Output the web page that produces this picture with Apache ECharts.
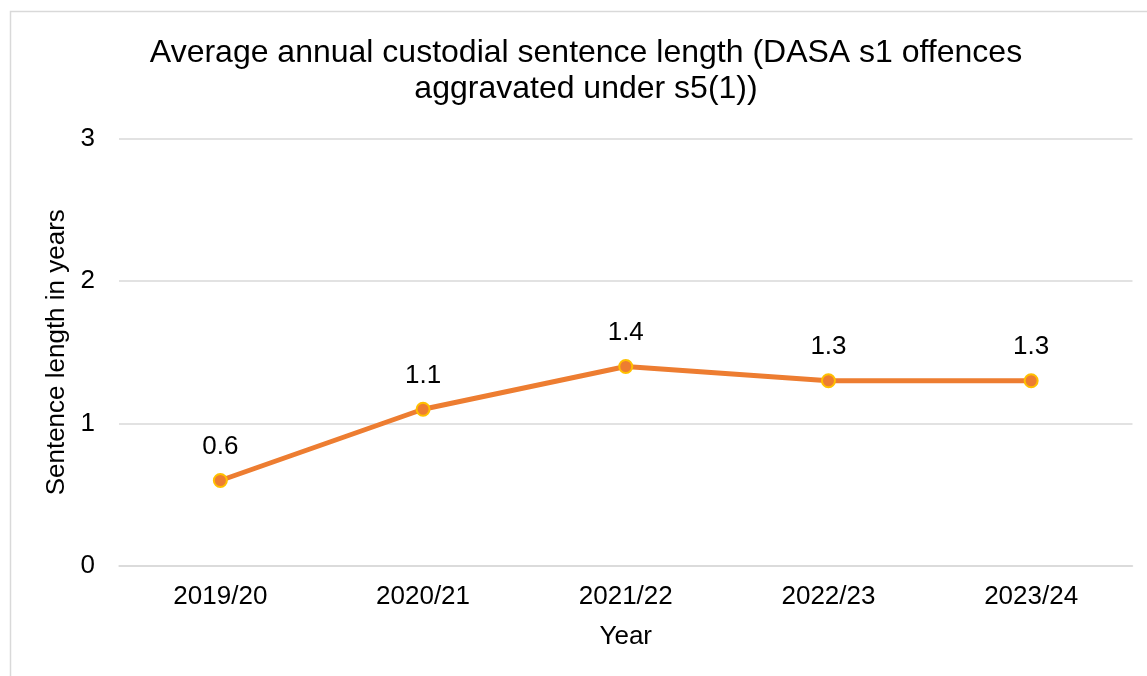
<!DOCTYPE html>
<html>
<head>
<meta charset="utf-8">
<script src="https://cdn.jsdelivr.net/npm/echarts@6/dist/echarts.min.js"></script>
<style>
  html, body { margin: 0; padding: 0; background: #fff; }
  #chart { width: 1147px; height: 676px; }
</style>
</head>
<body>
<div id="chart"></div>
<script>
// Financial years and average custodial sentence length (years)
const years = ['2019/20', '2020/21', '2021/22', '2022/23', '2023/24'];
const sentenceYears = [0.6, 1.1, 1.4, 1.3, 1.3];
const yTicks = [0, 1, 2, 3];

const FONT = '"Liberation Sans", Arial, sans-serif';

const chart = echarts.init(document.getElementById('chart'), null, { renderer: 'canvas' });

chart.setOption({
  animation: false,
  backgroundColor: '#ffffff',
  graphic: [{
    type: 'rect',
    shape: { x: 10.5, y: 11.5, width: 1200, height: 700 },
    style: { fill: 'none', stroke: '#d9d9d9', lineWidth: 1.5 },
    silent: true
  }],
  title: {
    text: 'Average annual custodial sentence length (DASA s1 offences\naggravated under s5(1))',
    left: 581,
    textAlign: 'center',
    top: 30,
    textStyle: {
      fontFamily: FONT,
      fontSize: 32,
      fontWeight: 'normal',
      color: '#000000',
      lineHeight: 36
    }
  },
  grid: { left: 119, right: 14.5, top: 138.5, bottom: 110, containLabel: false },
  xAxis: {
    type: 'category',
    data: years,
    boundaryGap: true,
    name: 'Year',
    nameLocation: 'middle',
    nameGap: 58,
    nameTextStyle: { fontFamily: FONT, fontSize: 26, color: '#000' },
    axisLine: { show: true, lineStyle: { color: '#d9d9d9', width: 1.5 } },
    axisTick: { show: false },
    axisLabel: { fontFamily: FONT, fontSize: 26, color: '#000', margin: 18 }
  },
  yAxis: {
    type: 'value',
    min: yTicks[0],
    max: yTicks[yTicks.length - 1],
    interval: 1,
    name: 'Sentence length in years',
    nameLocation: 'middle',
    nameGap: 41,
    nameRotate: 90,
    nameTextStyle: { fontFamily: FONT, fontSize: 26, color: '#000' },
    axisLine: { show: false },
    axisTick: { show: false },
    splitLine: { lineStyle: { color: '#d9d9d9', width: 1.5 } },
    axisLabel: { fontFamily: FONT, fontSize: 26, color: '#000', margin: 24 }
  },
  series: [{
    type: 'line',
    data: sentenceYears,
    symbol: 'circle',
    symbolSize: 13,
    lineStyle: { color: '#ED7D31', width: 5 },
    itemStyle: { color: '#ED7D31', borderColor: '#FFC000', borderWidth: 2 },
    label: {
      show: true,
      position: 'top',
      distance: 13,
      fontFamily: FONT,
      fontSize: 26,
      color: '#000'
    }
  }]
});
</script>
</body>
</html>
